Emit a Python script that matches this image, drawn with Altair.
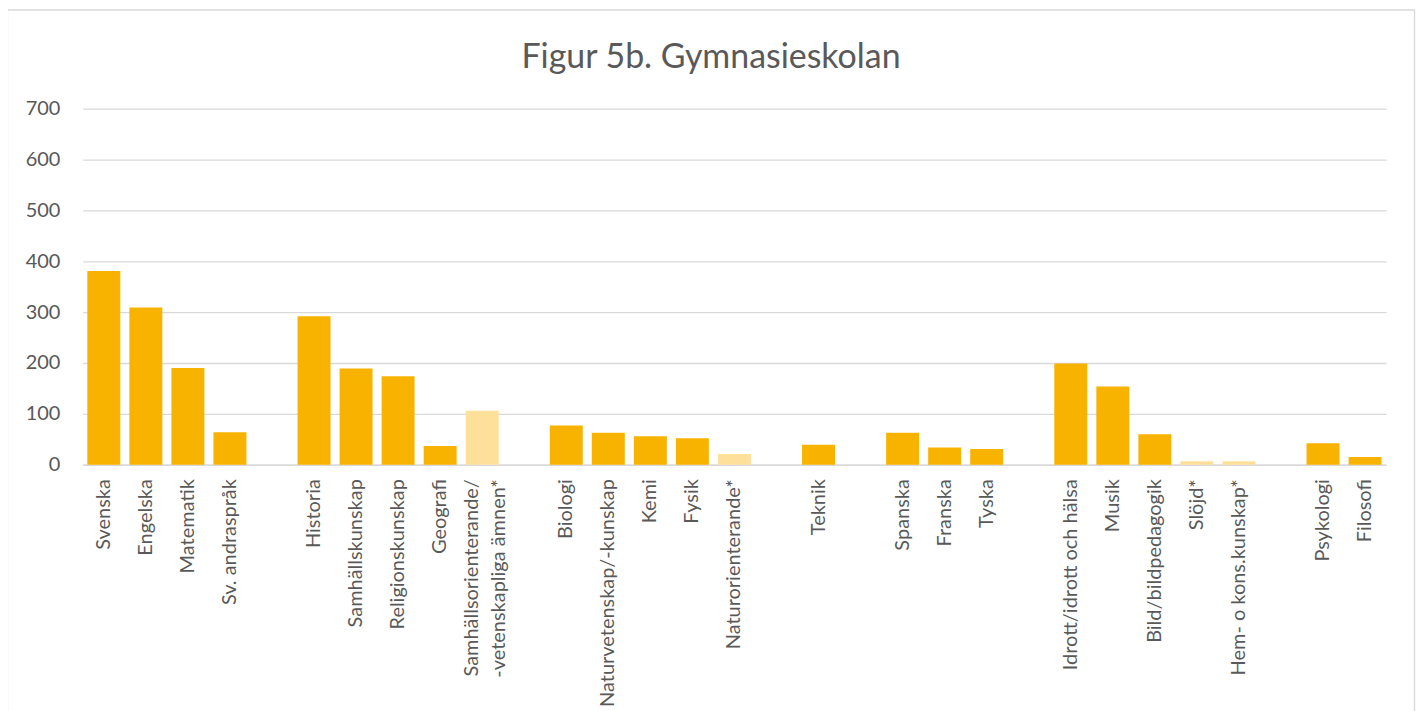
import altair as alt
import pandas as pd

# Categories in display order; whitespace-only entries are the empty gap slots
categories = [
    "Svenska", "Engelska", "Matematik", "Sv. andraspråk", " ",
    "Historia", "Samhällskunskap", "Religionskunskap", "Geografi",
    "Samhällsorienterande/\n-vetenskapliga ämnen*", "  ",
    "Biologi", "Naturvetenskap/-kunskap", "Kemi", "Fysik", "Naturorienterande*", "   ",
    "Teknik", "    ",
    "Spanska", "Franska", "Tyska", "     ",
    "Idrott/idrott och hälsa", "Musik", "Bild/bildpedagogik", "Slöjd*", "Hem- o kons.kunskap*", "      ",
    "Psykologi", "Filosofi",
]
values = [
    381, 309, 190, 64, None,
    292, 189, 174, 37, 106, None,
    77, 63, 56, 52, 21, None,
    39, None,
    63, 34, 31, None,
    199, 154, 60, 7, 7, None,
    42, 15,
]
y_ticks = [0, 100, 200, 300, 400, 500, 600, 700]
title_text = "Figur 5b. Gymnasieskolan"

rows = []
for c, v in zip(categories, values):
    if v is None:
        continue
    rows.append({"subject": c, "value": v, "shade": "light" if c.endswith("*") else "main"})
df = pd.DataFrame(rows)

TEXT = "#595959"
GRID = "#D9D9D9"
FONT = "Lato"

bars = alt.Chart(df).mark_bar().encode(
    x=alt.X(
        "subject:N",
        scale=alt.Scale(domain=categories, paddingInner=0.216, paddingOuter=0.108),
        sort=categories,
        axis=alt.Axis(
            title=None,
            labelAngle=-90,
            labelAlign="right",
            labelBaseline="middle",
            labelFontSize=20,
            labelFont=FONT,
            labelColor=TEXT,
            labelPadding=14,
            labelLimit=400,
            labelOverlap=False,
            labelLineHeight=27,
            labelExpr="split(datum.label, '\\n')",
            labelOffset={"condition": {"test": "indexof(datum.value, '\\n') >= 0", "value": -10}, "value": 0},
            ticks=False,
            tickSize=0,
            domainColor=GRID,
            domainWidth=1.5,
            grid=False,
        ),
    ),
    y=alt.Y(
        "value:Q",
        scale=alt.Scale(domain=[0, 700], nice=False),
        axis=alt.Axis(
            title=None,
            values=y_ticks,
            labelFontSize=20,
            labelFont=FONT,
            labelColor=TEXT,
            labelPadding=23,
            ticks=False,
            tickSize=0,
            domain=False,
            grid=True,
            gridColor=GRID,
            gridWidth=1.3,
        ),
    ),
    color=alt.Color(
        "shade:N",
        scale=alt.Scale(domain=["main", "light"], range=["#F8B300", "#FFE09A"]),
        legend=None,
    ),
)

frame = alt.Chart(pd.DataFrame({"f": [0]})).mark_rect(
    filled=False, stroke=GRID, strokeWidth=1.3
).encode(
    x=alt.value(-75.5), x2=alt.value(1335.5), y=alt.value(-99), y2=alt.value(700)
)

title = alt.Chart(pd.DataFrame({"t": [title_text]})).mark_text(
    font=FONT, fontSize=34, color=TEXT, align="center", baseline="alphabetic"
).encode(
    text="t:N", x=alt.value(630), y=alt.value(-41)
)

chart = alt.layer(bars, frame, title).properties(
    width=1307,
    height=357,
    autosize=alt.AutoSizeParams(type="none"),
    padding={"left": 75, "top": 100, "right": 30, "bottom": 246},
).configure_view(stroke=None)

chart.save("out.html", embed_options={"renderer": "svg", "actions": False})
